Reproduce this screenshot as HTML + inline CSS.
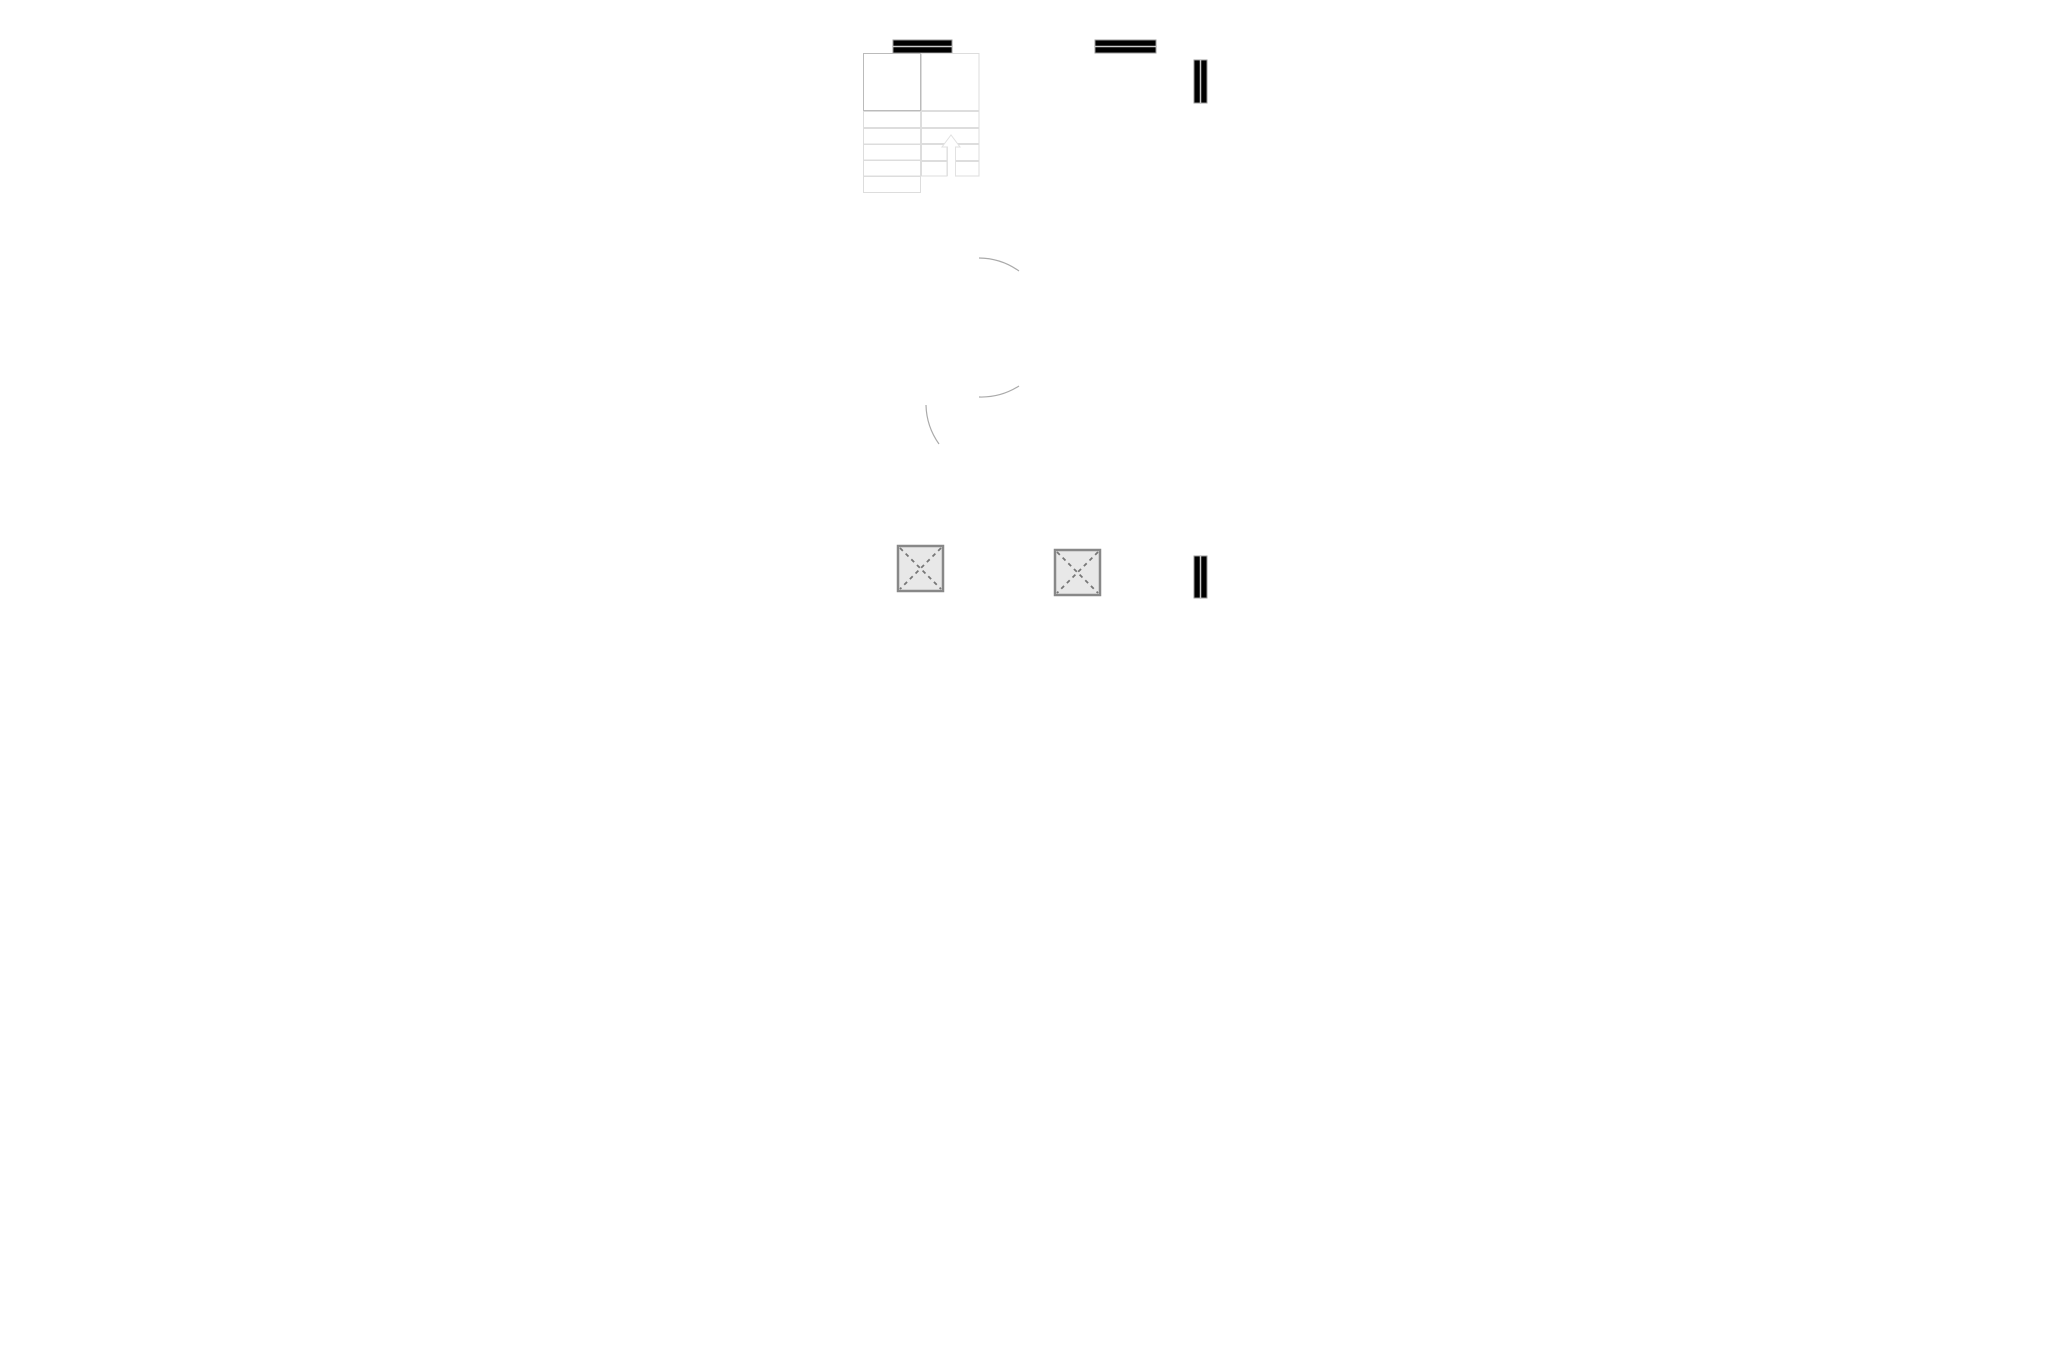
<!DOCTYPE html>
<html><head><meta charset="utf-8"><style>html,body{margin:0;padding:0;background:#fff}svg{display:block}</style></head>
<body>
<svg width="2057" height="1371" viewBox="0 0 2057 1371" xmlns="http://www.w3.org/2000/svg">
<rect width="2057" height="1371" fill="#fff"/>
<g fill="#000" stroke="#999" stroke-width="1">
<rect x="893" y="40" width="59" height="13"/>
<rect x="1095" y="40" width="61" height="13"/>
<rect x="1194" y="60" width="13" height="43"/>
<rect x="1194" y="556" width="13" height="42"/>
</g>
<g stroke="#ccc" stroke-width="1.5">
<line x1="893" y1="46.5" x2="952" y2="46.5"/>
<line x1="1095" y1="46.5" x2="1156" y2="46.5"/>
<line x1="1200.5" y1="60" x2="1200.5" y2="103"/>
<line x1="1200.5" y1="556" x2="1200.5" y2="598"/>
</g>
<g fill="none" stroke="#ddd" stroke-width="1">
<rect x="863.5" y="53.5" width="57" height="57" stroke="#bbb"/>
<rect x="921.5" y="53.5" width="57.5" height="57"/>
<rect x="863.5" y="111.5" width="57" height="16"/>
<rect x="863.5" y="128.5" width="57" height="15.5"/>
<rect x="863.5" y="144.5" width="57" height="15.5"/>
<rect x="863.5" y="160.5" width="57" height="15.5"/>
<rect x="863.5" y="176.5" width="57" height="16"/>
<rect x="921.5" y="111.5" width="57.5" height="16"/>
<rect x="921.5" y="128.5" width="57.5" height="15"/>
<rect x="921.5" y="144.5" width="25.5" height="16"/>
<rect x="921.5" y="161.5" width="25.5" height="14.5"/>
<rect x="955.5" y="144.5" width="23.5" height="16"/>
<rect x="955.5" y="161.5" width="23.5" height="14.5"/>
<path d="M947.5 176 L947.5 147 L942 147 L951 135 L960 147 L955.5 147 L955.5 176" fill="#fff" stroke="#e2e2e2"/>
</g>
<g fill="none" stroke="#aaa" stroke-width="1.2">
<path d="M979 258 A70 70 0 0 1 1019 271"/>
<path d="M979 397 A70 70 0 0 0 1019 386"/>
<path d="M926 405 A70 70 0 0 0 939 444"/>
</g>
<g>
<rect x="898" y="546" width="45" height="45" fill="#e8e8e8" stroke="#888" stroke-width="2.5"/>
<line x1="900" y1="548" x2="941" y2="589" stroke="#777" stroke-width="1.8" stroke-dasharray="4,4"/>
<line x1="941" y1="548" x2="900" y2="589" stroke="#777" stroke-width="1.8" stroke-dasharray="4,4"/>
<rect x="1055" y="550" width="45" height="45" fill="#e8e8e8" stroke="#888" stroke-width="2.5"/>
<line x1="1057" y1="552" x2="1098" y2="593" stroke="#777" stroke-width="1.8" stroke-dasharray="4,4"/>
<line x1="1098" y1="552" x2="1057" y2="593" stroke="#777" stroke-width="1.8" stroke-dasharray="4,4"/>
</g>
</svg>
</body></html>
